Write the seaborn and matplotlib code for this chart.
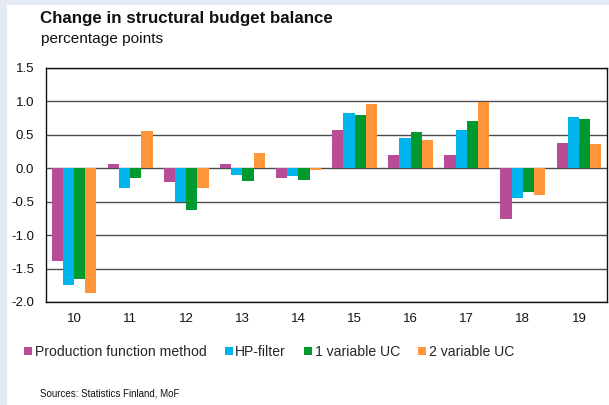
import matplotlib
matplotlib.use("Agg")
import matplotlib.pyplot as plt
from matplotlib.patches import Rectangle
import seaborn as sns
import pandas as pd

years = ["10", "11", "12", "13", "14", "15", "16", "17", "18", "19"]
production_function = [-1.38, 0.06, -0.21, 0.06, -0.14, 0.57, 0.20, 0.20, -0.76, 0.38]
hp_filter = [-1.74, -0.29, -0.51, -0.10, -0.12, 0.82, 0.45, 0.58, -0.44, 0.76]
uc_one_variable = [-1.65, -0.15, -0.63, -0.19, -0.18, 0.80, 0.55, 0.70, -0.36, 0.73]
uc_two_variable = [-1.87, 0.56, -0.30, 0.23, -0.03, 0.96, 0.43, 0.99, -0.40, 0.36]

methods = ["Production function method", "HP-filter", "1 variable UC", "2 variable UC"]
colors = ["#B84C96", "#00B5EC", "#009A2E", "#FF963A"]
y_ticks = [-2.0, -1.5, -1.0, -0.5, 0.0, 0.5, 1.0, 1.5]

series = [production_function, hp_filter, uc_one_variable, uc_two_variable]
df = pd.DataFrame(
    [(y, m, v) for m, vals in zip(methods, series) for y, v in zip(years, vals)],
    columns=["year", "method", "value"],
)

sns.set_theme(style="white")
plt.rcParams["font.family"] = ["Liberation Sans", "DejaVu Sans"]

fig = plt.figure(figsize=(6.09, 4.05), dpi=100)
fig.patch.set_facecolor("#E3EAF3")
# white card over the light frame
fig.patches.append(Rectangle((7 / 609, 0), 1 - 7 / 609, 1 - 5 / 405,
                             transform=fig.transFigure, facecolor="white",
                             edgecolor="none", zorder=-10))

ax = fig.add_axes([46 / 609, 1 - 302 / 405, (607 - 46) / 609, (302 - 68) / 405])
ax.set_zorder(1)
ax.patch.set_facecolor("white")
sns.barplot(data=df, x="year", y="value", hue="method", order=years,
            hue_order=methods, palette=colors, width=0.8, ax=ax,
            saturation=1, edgecolor="none", linewidth=0, legend=True)

ax.set_ylim(-2.0, 1.5)
ax.set_xlim(-0.5, len(years) - 0.5)
ax.set_yticks(y_ticks)
ax.set_yticklabels([f"{t:.1f}" for t in y_ticks], fontsize=9.5, color="#111111")
ax.tick_params(axis="x", labelsize=9.5, colors="#111111", pad=8, length=0)
ax.tick_params(axis="y", length=0, pad=8.5)
ax.set_xlabel("")
ax.set_ylabel("")
ax.set_axisbelow(True)
ax.yaxis.grid(True, color="#4d4d4d", linewidth=1.0)
for s in ax.spines.values():
    s.set_visible(True)
    s.set_color("#111111")
    s.set_linewidth(1.0)

handles, labels = ax.get_legend_handles_labels()
ax.legend_.remove()
fig.legend(handles, labels, loc="center left", bbox_to_anchor=(24 / 609, 1 - 352 / 405),
           ncol=4, frameon=False, fontsize=10.1, handlelength=0.57, handleheight=0.57,
           handletextpad=0.2, columnspacing=1.28, borderaxespad=0, borderpad=0)

fig.text(40 / 609, 1 - 18 / 405, "Change in structural budget balance",
         fontsize=12.2, fontweight="bold", va="center", ha="left", color="#111111")
fig.text(41 / 609, 1 - 39 / 405, "percentage points",
         fontsize=11.1, va="center", ha="left", color="#111111")
fig.text(40 / 609, 1 - 393 / 405, "Sources: Statistics Finland, MoF",
         fontsize=7, va="center", ha="left", color="#111111")

fig.savefig("out.png", dpi=100, facecolor=fig.get_facecolor())
